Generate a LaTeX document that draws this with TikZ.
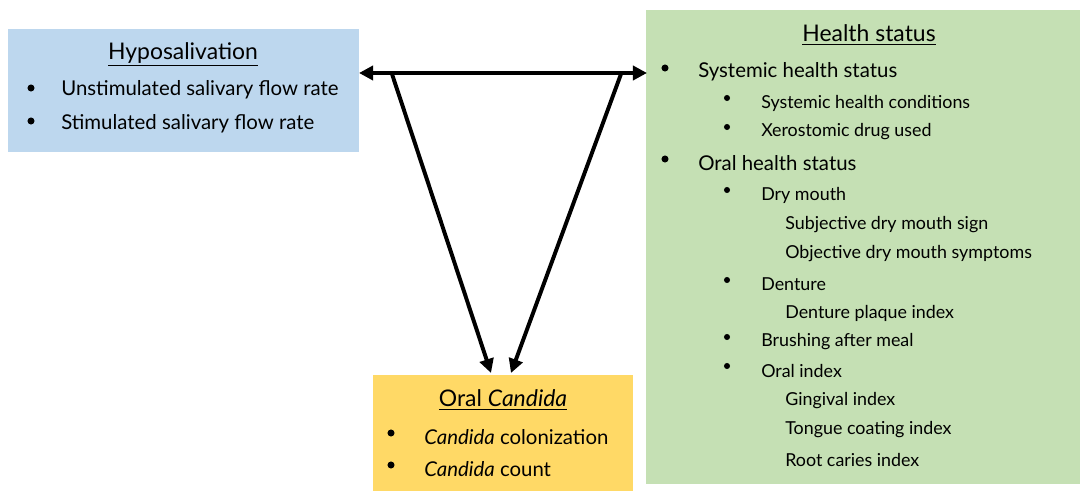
\documentclass[tikz,border=0pt]{standalone}
\usepackage{fontspec}
\setmainfont{Lato}
\usetikzlibrary{arrows.meta}
\definecolor{bluebox}{HTML}{BDD7EE}
\definecolor{greenbox}{HTML}{C5E0B4}
\definecolor{yellowbox}{HTML}{FFD966}
\tikzset{
  px/.style={x=0.025cm,y=-0.025cm},
  title/.style={anchor=center,font=\fontsize{16.3}{18}\selectfont,inner sep=0pt},
  lone/.style={anchor=west,font=\fontsize{14.5}{16}\selectfont,inner sep=0pt},
  ltwo/.style={anchor=west,font=\fontsize{12.7}{14}\selectfont,inner sep=0pt},
  dot/.style={circle,fill=black,inner sep=0pt,minimum size=5pt},
  sdot/.style={circle,fill=black,inner sep=0pt,minimum size=4.3pt},
  arr/.style={line width=2.8pt,-{Triangle[length=10pt,width=10pt]}},
  darr/.style={line width=2.8pt,{Triangle[length=10pt,width=10pt]}-{Triangle[length=10pt,width=10pt]}}
}
\begin{document}
\begin{tikzpicture}[px]
\useasboundingbox (0,0) rectangle (1080,491);
% boxes
\fill[bluebox] (8,29) rectangle (359,152);
\fill[greenbox] (646,10) rectangle (1080,484);
\fill[yellowbox] (373,375) rectangle (633,491);
% Hyposalivation
\node[title] (ht) at (183,54) {\underline{Hyposalivation}};
\node[dot] (hb1) at (31,88) {};
\node[lone] (h1) at (61,90) {Unstimulated salivary flow rate};
\node[dot] (hb2) at (31,121) {};
\node[lone] (h2) at (61,124) {Stimulated salivary flow rate};
% Health status
\node[title] (gt) at (869,35) {\underline{Health status}};
\node[dot] (gb1) at (665,68) {};
\node[lone] (g1) at (698,72) {Systemic health status};
\node[sdot] (gb2) at (727,98) {};
\node[ltwo] (g2) at (761,103) {Systemic health conditions};
\node[sdot] (gb3) at (727,127) {};
\node[ltwo] (g3) at (761,132) {Xerostomic drug used};
\node[dot] (gb4) at (665,159) {};
\node[lone] (g4) at (698,163) {Oral health status};
\node[sdot] (gb5) at (727,190) {};
\node[ltwo] (g5) at (761,195) {Dry mouth};
\node[ltwo] (g6) at (785,225) {Subjective dry mouth sign};
\node[ltwo] (g7) at (785,254) {Objective dry mouth symptoms};
\node[sdot] (gb8) at (727,280) {};
\node[ltwo] (g8) at (761,284) {Denture};
\node[ltwo] (g9) at (785,313) {Denture plaque index};
\node[sdot] (gb10) at (727,337) {};
\node[ltwo] (g10) at (761,342) {Brushing after meal};
\node[sdot] (gb11) at (727,366) {};
\node[ltwo] (g11) at (761,371) {Oral index};
\node[ltwo] (g12) at (785,401) {Gingival index};
\node[ltwo] (g13) at (785,430) {Tongue coating index};
\node[ltwo] (g14) at (785,460) {Root caries index};
% Oral Candida
\node[title] (yt) at (503,400) {\underline{Oral \textit{Candida}}};
\node[dot] (yb1) at (391,433) {};
\node[lone] (y1) at (424,437) {\textit{Candida} colonization};
\node[dot] (yb2) at (391,465) {};
\node[lone] (y2) at (424,469) {\textit{Candida} count};
% arrows
\coordinate (L) at (359,73);
\coordinate (R) at (647,73);
\coordinate (A) at (392,74);
\coordinate (B) at (621,74);
\coordinate (C) at (491,373);
\coordinate (D) at (511,373);
\draw[darr] (L) -- (R);
\draw[arr] (A) -- (C);
\draw[arr] (B) -- (D);
\end{tikzpicture}
\end{document}
